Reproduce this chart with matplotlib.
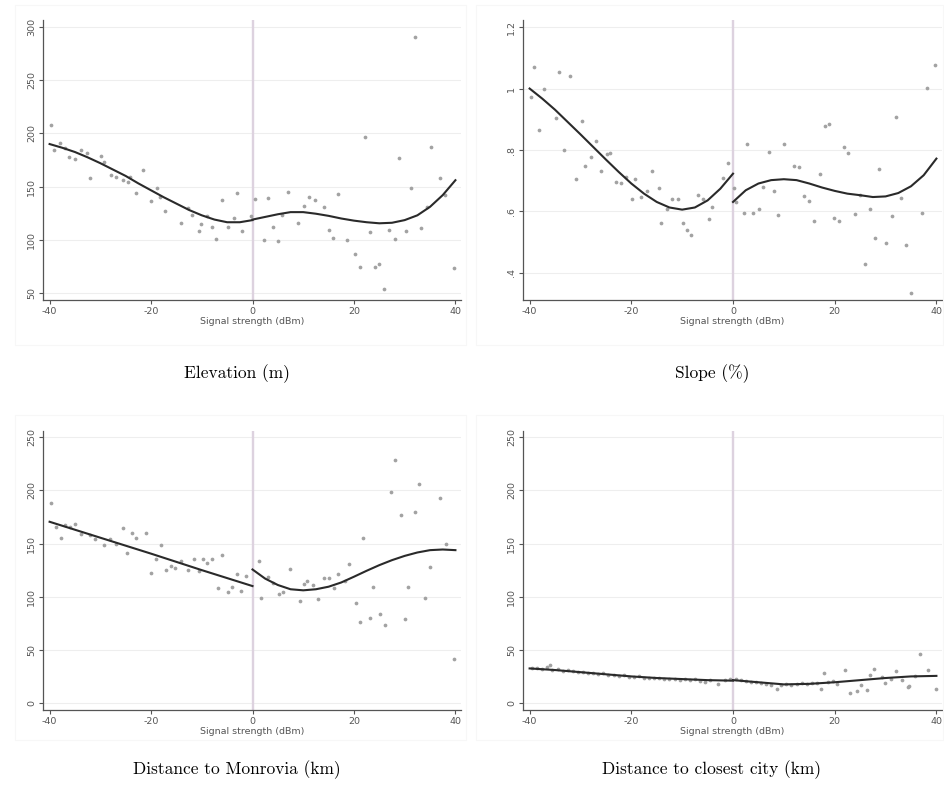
import matplotlib
matplotlib.use("Agg")
import matplotlib.pyplot as plt
from matplotlib.patches import Rectangle

plt.rcParams["axes.unicode_minus"] = False

# ---- Elevation (m) ----
elev_x_left = [-39.8, -39.1, -38.0, -37.0, -36.1, -34.9, -33.8, -32.7, -32.0, -29.8,
               -29.2, -27.9, -26.9, -25.6, -24.6, -24.1, -23.0, -21.5, -20.0, -18.8,
               -18.2, -17.2, -14.1, -12.8, -12.0, -10.6, -10.2, -8.9, -7.9, -7.2,
               -6.0, -4.9, -3.7, -3.1, -2.0, -0.3]
elev_y_left = [207.8, 184.4, 190.6, 186.6, 178.0, 175.6, 184.0, 182.0, 157.8, 178.8,
               172.8, 161.0, 159.4, 156.0, 154.7, 158.8, 143.8, 165.6, 136.0, 148.4,
               140.6, 127.5, 116.0, 130.0, 123.5, 108.4, 115.0, 122.0, 111.6, 100.6,
               137.5, 111.6, 120.3, 143.8, 107.8, 122.0]
elev_x_right = [0.5, 2.2, 3.1, 4.1, 5.1, 5.9, 6.9, 8.9, 10.2, 11.1,
                12.3, 14.1, 15.1, 15.9, 16.9, 18.7, 20.3, 21.1, 22.1, 23.1,
                24.1, 25.0, 25.9, 27.0, 28.0, 28.9, 30.2, 31.3, 32.1, 33.2,
                34.3, 35.1, 36.9, 38.0, 39.8]
elev_y_right = [138.0, 99.4, 139.7, 112.0, 98.4, 123.4, 145.3, 115.6, 132.0, 140.6,
                137.5, 130.6, 109.4, 102.0, 142.8, 99.4, 86.9, 74.4, 196.3, 107.2,
                74.4, 77.5, 54.0, 108.8, 100.6, 176.6, 107.8, 149.0, 290.6, 111.0,
                130.6, 186.9, 158.4, 142.0, 73.4]
elev_fit_x_left = [-40, -37.5, -35, -32.5, -30, -27.5, -25, -22.5, -20, -17.5,
                   -15, -12.5, -10, -7.5, -5, -2.5, 0]
elev_fit_y_left = [190.0, 186.5, 182.5, 177.5, 172.0, 166.0, 160.0, 153.0, 146.5, 140.0,
                   134.0, 128.0, 123.0, 119.0, 116.5, 116.5, 118.5]
elev_fit_x_right = [0, 2.5, 5, 7.5, 10, 12.5, 15, 17.5, 20, 22.5,
                    25, 27.5, 30, 32.5, 35, 37.5, 40]
elev_fit_y_right = [119.0, 121.5, 124.0, 126.0, 126.0, 124.5, 122.5, 120.0, 118.0, 116.5,
                    115.5, 116.0, 118.5, 123.0, 131.0, 142.0, 156.0]

# ---- Slope (%) ----
slope_x_left = [-39.7, -39.2, -38.2, -37.1, -34.9, -34.3, -33.2, -32.0, -30.8, -29.7,
                -29.2, -28.0, -26.9, -25.9, -24.7, -24.2, -23.0, -22.1, -21.0, -19.8,
                -19.2, -18.0, -17.0, -15.9, -14.6, -14.2, -12.9, -11.9, -10.8, -9.8,
                -9.1, -8.2, -6.9, -5.9, -4.8, -4.2, -1.9, -0.9]
slope_y_left = [0.973, 1.070, 0.866, 0.997, 0.905, 1.054, 0.799, 1.041, 0.707, 0.893,
                0.748, 0.777, 0.829, 0.732, 0.788, 0.790, 0.696, 0.693, 0.712, 0.639,
                0.707, 0.647, 0.667, 0.732, 0.678, 0.563, 0.607, 0.639, 0.640, 0.563,
                0.541, 0.525, 0.653, 0.642, 0.574, 0.613, 0.709, 0.759]
slope_x_right = [0.2, 0.6, 2.2, 2.7, 4.0, 5.2, 5.8, 7.0, 8.1, 8.9,
                 10.0, 11.9, 12.9, 14.0, 15.0, 16.0, 17.1, 18.1, 18.9, 19.9,
                 20.9, 21.9, 22.7, 23.9, 25.0, 25.9, 26.9, 28.0, 28.8, 30.0,
                 31.3, 32.0, 33.1, 34.1, 35.0, 37.2, 38.1, 39.8]
slope_y_right = [0.677, 0.631, 0.596, 0.821, 0.596, 0.609, 0.680, 0.794, 0.666, 0.588,
                 0.819, 0.748, 0.745, 0.649, 0.633, 0.568, 0.721, 0.877, 0.884, 0.580,
                 0.569, 0.810, 0.790, 0.591, 0.655, 0.428, 0.607, 0.514, 0.737, 0.498,
                 0.584, 0.908, 0.645, 0.490, 0.335, 0.596, 1.003, 1.075]
slope_fit_x_left = [-40, -37.5, -35, -32.5, -30, -27.5, -25, -22.5, -20, -17.5,
                    -15, -12.5, -10, -7.5, -5, -2.5, 0]
slope_fit_y_left = [1.000, 0.967, 0.931, 0.891, 0.851, 0.810, 0.769, 0.729, 0.691, 0.658,
                    0.631, 0.613, 0.606, 0.613, 0.636, 0.674, 0.723]
slope_fit_x_right = [0, 2.5, 5, 7.5, 10, 12.5, 15, 17.5, 20, 22.5,
                     25, 27.5, 30, 32.5, 35, 37.5, 40]
slope_fit_y_right = [0.631, 0.669, 0.691, 0.702, 0.705, 0.702, 0.691, 0.678, 0.667, 0.658,
                     0.653, 0.647, 0.649, 0.660, 0.682, 0.718, 0.772]

# ---- Distance to Monrovia (km) ----
monr_x_left = [-39.7, -38.7, -37.7, -36.9, -35.9, -34.9, -33.9, -32.1, -31.0, -29.2,
               -28.1, -26.9, -25.6, -24.8, -23.8, -23.0, -21.0, -20.0, -19.0, -18.0,
               -17.0, -16.0, -15.2, -14.1, -12.7, -11.6, -10.6, -9.8, -8.9, -7.9,
               -6.9, -6.0, -4.9, -4.1, -3.0, -2.2, -1.2]
monr_y_left = [188.0, 165.6, 155.6, 167.0, 165.6, 168.8, 159.4, 157.8, 154.0, 148.4,
               154.7, 150.0, 165.0, 141.0, 160.0, 155.6, 160.0, 122.5, 135.0, 149.0,
               125.0, 128.8, 127.2, 133.8, 125.0, 135.6, 124.4, 135.0, 131.9, 135.6,
               107.8, 139.0, 104.7, 109.4, 121.2, 105.6, 119.7]
monr_x_right = [1.2, 1.7, 3.0, 4.0, 5.2, 6.0, 7.3, 9.3, 10.2, 10.7,
                11.9, 13.0, 14.1, 15.1, 16.1, 16.9, 18.2, 19.1, 20.4, 21.2,
                21.7, 23.1, 23.8, 25.2, 26.1, 27.3, 28.0, 29.3, 30.0, 30.7,
                32.0, 32.8, 34.1, 35.0, 36.9, 38.2, 39.8]
monr_y_right = [133.8, 98.4, 118.8, 112.5, 103.0, 104.7, 125.6, 96.3, 111.6, 115.0,
                111.0, 97.5, 117.2, 117.2, 108.4, 121.0, 115.0, 130.6, 94.4, 76.6,
                155.6, 79.7, 108.8, 83.8, 73.4, 198.4, 228.8, 176.6, 79.0, 109.4,
                179.7, 206.3, 98.4, 128.0, 192.8, 150.0, 41.3]
monr_fit_x_left = [-40, -30, -20, -10, 0]
monr_fit_y_left = [170.5, 155.5, 140.5, 125.0, 110.0]
monr_fit_x_right = [0, 2.5, 5, 7.5, 10, 12.5, 15, 17.5, 20, 22.5,
                    25, 27.5, 30, 32.5, 35, 37.5, 40]
monr_fit_y_right = [125.6, 117.0, 111.0, 107.0, 106.0, 107.0, 109.4, 113.4, 118.8, 124.4,
                    129.7, 134.4, 138.4, 141.6, 143.8, 144.4, 143.8]

# ---- Distance to closest city (km) ----
city_x_left = [-39.5, -38.5, -37.5, -36.5, -35.9, -35.5, -34.5, -33.5, -32.5, -31.5,
               -30.5, -29.5, -28.5, -27.5, -26.5, -25.5, -24.5, -23.5, -22.5, -21.5,
               -20.5, -19.5, -18.5, -17.5, -16.5, -15.5, -14.5, -13.5, -12.5, -11.5,
               -10.5, -9.5, -8.5, -7.5, -6.5, -5.5, -4.5, -3.0, -1.5, -0.5]
city_y_left = [33.0, 32.6, 32.1, 33.5, 36.0, 31.2, 31.8, 30.4, 30.9, 29.8,
               29.2, 29.5, 28.4, 28.1, 27.6, 27.9, 26.8, 26.2, 25.4, 25.9,
               24.8, 24.3, 25.2, 23.9, 23.6, 23.1, 23.8, 22.7, 22.4, 22.9,
               21.8, 22.5, 21.4, 22.1, 20.9, 19.6, 21.2, 18.0, 21.6, 22.3]
city_x_right = [0.5, 1.5, 2.5, 3.5, 4.5, 5.5, 6.5, 7.5, 8.6, 9.5,
                10.5, 11.5, 12.5, 13.5, 14.5, 15.5, 16.5, 17.3, 17.9, 18.7,
                19.6, 20.5, 22.0, 23.0, 24.3, 25.1, 26.3, 27.0, 27.8, 29.3,
                29.9, 31.0, 32.0, 33.2, 34.4, 34.7, 35.8, 36.8, 38.3, 39.9]
city_y_right = [22.8, 21.2, 20.6, 20.1, 19.4, 18.6, 17.9, 17.2, 13.5, 16.9,
                17.8, 16.6, 17.4, 18.9, 18.1, 18.6, 19.2, 13.5, 28.2, 19.8,
                20.5, 17.8, 31.3, 9.4, 11.0, 16.6, 11.9, 26.0, 32.3, 24.1,
                18.8, 22.6, 29.8, 21.9, 14.7, 15.7, 25.2, 46.0, 31.3, 13.5]
city_fit_x_left = [-40, -35, -30, -25, -20, -15, -10, -5, 0]
city_fit_y_left = [32.5, 31.0, 29.0, 27.0, 25.0, 23.5, 22.5, 21.5, 21.0]
city_fit_x_right = [0, 5, 10, 15, 20, 25, 30, 35, 40]
city_fit_y_right = [21.5, 19.5, 17.5, 18.0, 19.5, 21.5, 23.5, 25.0, 25.5]

captions = ["Elevation (m)", "Slope (%)",
            "Distance to Monrovia (km)", "Distance to closest city (km)"]
x_ticks = [-40, -20, 0, 20, 40]
elev_ticks = [50, 100, 150, 200, 250, 300]
slope_ticks = [0.4, 0.6, 0.8, 1.0, 1.2]
slope_tick_labels = [".4", ".6", ".8", "1", "1.2"]
dist_ticks = [0, 50, 100, 150, 200, 250]

W, H = 944, 796
fig = plt.figure(figsize=(W / 100, H / 100), dpi=100)


def px_axes(left, top, right, bottom):
    return fig.add_axes([left / W, 1 - bottom / H, (right - left) / W, (bottom - top) / H])


def panel_frame(left, top, right, bottom):
    # faint border of each graph region
    fig.patches.append(Rectangle((left / W, 1 - bottom / H), (right - left) / W,
                                 (bottom - top) / H, transform=fig.transFigure,
                                 fill=False, edgecolor="#f7f7f7", lw=0.8, zorder=0))


def draw_panel(ax, xl, yl, xr, yr, fxl, fyl, fxr, fyr, yticks, ylabels, ylim):
    ax.set_xlim(-41.3, 41.1)
    ax.set_ylim(*ylim)
    for t in yticks:
        ax.axhline(t, color="#eeeeee", lw=0.8, zorder=0)
    ax.axvline(0, color="#ddd2df", lw=1.7, zorder=1)
    ax.plot(xl, yl, "o", ms=2.7, color="#a2a2a2", mec="none", zorder=2)
    ax.plot(xr, yr, "o", ms=2.7, color="#a2a2a2", mec="none", zorder=2)
    ax.plot(fxl, fyl, color="#2a2a2a", lw=1.5, zorder=3, solid_joinstyle="round")
    ax.plot(fxr, fyr, color="#2a2a2a", lw=1.5, zorder=3, solid_joinstyle="round")
    ax.set_xticks(x_ticks)
    ax.set_xticklabels([str(v) for v in x_ticks])
    ax.set_yticks(yticks)
    ax.set_yticklabels(ylabels, rotation=90, va="center")
    ax.tick_params(colors="#555555", labelsize=6.8, length=3, width=0.8, pad=2)
    ax.spines["top"].set_visible(False)
    ax.spines["right"].set_visible(False)
    for s in ("left", "bottom"):
        ax.spines[s].set_color("#555555")
        ax.spines[s].set_linewidth(0.9)
    ax.set_xlabel("Signal strength (dBm)", fontsize=6.8, color="#555555", labelpad=1)


panel_frame(15, 5, 466, 345)
panel_frame(476, 5, 943, 345)
panel_frame(15, 415, 466, 740)
panel_frame(476, 415, 943, 740)

ax_tl = px_axes(43, 20, 461, 300)
draw_panel(ax_tl, elev_x_left, elev_y_left, elev_x_right, elev_y_right,
           elev_fit_x_left, elev_fit_y_left, elev_fit_x_right, elev_fit_y_right,
           elev_ticks, [str(v) for v in elev_ticks], (43.4, 306.6))

ax_tr = px_axes(523, 20, 942, 300)
draw_panel(ax_tr, slope_x_left, slope_y_left, slope_x_right, slope_y_right,
           slope_fit_x_left, slope_fit_y_left, slope_fit_x_right, slope_fit_y_right,
           slope_ticks, slope_tick_labels, (0.312, 1.223))

ax_bl = px_axes(43, 431, 461, 710)
draw_panel(ax_bl, monr_x_left, monr_y_left, monr_x_right, monr_y_right,
           monr_fit_x_left, monr_fit_y_left, monr_fit_x_right, monr_fit_y_right,
           dist_ticks, [str(v) for v in dist_ticks], (-6.6, 255.9))

ax_br = px_axes(523, 431, 942, 710)
draw_panel(ax_br, city_x_left, city_y_left, city_x_right, city_y_right,
           city_fit_x_left, city_fit_y_left, city_fit_x_right, city_fit_y_right,
           dist_ticks, [str(v) for v in dist_ticks], (-6.6, 255.9))

# captions under each panel
for (cx, cy), text in zip([(237, 374), (712, 374), (237, 770), (712, 770)], captions):
    fig.text(cx / W, 1 - cy / H, text, ha="center", va="center",
             fontsize=12.5, family="cmr10")

fig.savefig("out.png", dpi=100, facecolor="white")
